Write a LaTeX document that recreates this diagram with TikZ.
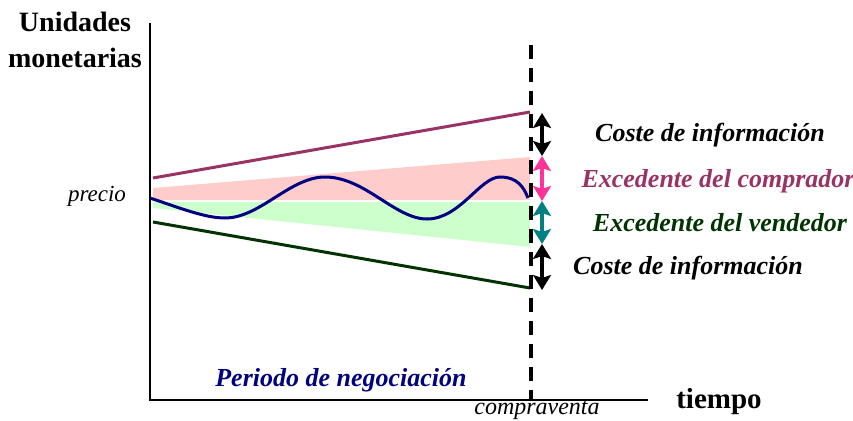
\documentclass[tikz,border=0pt]{standalone}
\usepackage{fontspec}
\setmainfont{Liberation Serif}
\usetikzlibrary{arrows.meta}
\definecolor{ciruela}{RGB}{153,51,102}
\definecolor{bosque}{RGB}{0,51,0}
\definecolor{rosa}{RGB}{255,204,204}
\definecolor{menta}{RGB}{204,255,204}
\definecolor{fucsia}{RGB}{255,51,153}
\definecolor{verdeazul}{RGB}{0,128,128}
\definecolor{marino}{RGB}{0,0,128}

\tikzset{
  flecha/.style={line width=4pt, {Stealth[width=18pt,length=15pt,inset=3pt]}-{Stealth[width=18pt,length=15pt,inset=3pt]}},
  rotulo/.style={font=\fontsize{26}{30}\selectfont\bfseries\itshape},
}

\begin{document}
\begin{tikzpicture}[x=1pt,y=-1pt]
    \useasboundingbox (0,0) rectangle (853,420);
    % areas
    \fill [rosa] (153,188) -- (530,157) -- (530,200) -- (153,200) -- cycle ;
    \fill [menta] (153,202) -- (530,202) -- (530,247) -- (153,208) -- cycle ;
    % lines
    \draw [ciruela, line width=3pt] (153,178) -- (530,112) ;
    \draw [bosque, line width=3pt] (153,222) -- (530,288) ;
    \draw [marino, line width=3pt] (150,198) .. controls (180,208) and (205,218) .. (225,218)
        .. controls (260,218) and (290,177) .. (325,177)
        .. controls (365,177) and (395,219) .. (427,219)
        .. controls (460,219) and (480,177) .. (500,177)
        .. controls (518,177) and (524,188) .. (528,198) ;
    % axes
    \coordinate (ejeY) at (150,23) ;
    \coordinate (origen) at (150,400) ;
    \coordinate (ejeX) at (648,400) ;
    \draw [line width=2pt] (ejeY) -- (origen) -- (ejeX) ;
    \coordinate (arriba) at (531,45) ;
    \coordinate (abajo) at (531,400) ;
    \draw [line width=4pt, dash pattern=on 14pt off 9pt] (arriba) -- (abajo) ;
    % arrows
    \coordinate (c0) at (542,113) ;
    \coordinate (c1) at (542,156) ;
    \coordinate (c2) at (542,201) ;
    \coordinate (c3) at (542,244) ;
    \coordinate (c4) at (542,290) ;
    \draw [flecha] (c0) -- (c1) ;
    \draw [flecha, fucsia] (c1) -- (c2) ;
    \draw [flecha, verdeazul] (c2) -- (c3) ;
    \draw [flecha] (c3) -- (c4) ;
    % labels
    \node [rotulo] (coste1) at (710,135) {Coste de información} ;
    \node [rotulo, ciruela] (excomp) at (718,181) {Excedente del comprador} ;
    \node [rotulo, bosque] (exvend) at (720,223) {Excedente del vendedor} ;
    \node [rotulo] (coste2) at (688,268) {Coste de información} ;
    \node [rotulo, marino] (periodo) at (341,380) {Periodo de negociación} ;
    \node [font=\fontsize{28}{36}\selectfont\bfseries, align=center] (unidades) at (75,40) {Unidades\\monetarias} ;
    \node [font=\fontsize{29}{30}\selectfont\bfseries] (tiempo) at (719,402) {tiempo} ;
    \node [font=\fontsize{23}{26}\selectfont\itshape] (precio) at (97,196) {precio} ;
    \node [font=\fontsize{24}{26}\selectfont\itshape] (compraventa) at (537,410) {compraventa} ;
\end{tikzpicture}
\end{document}
